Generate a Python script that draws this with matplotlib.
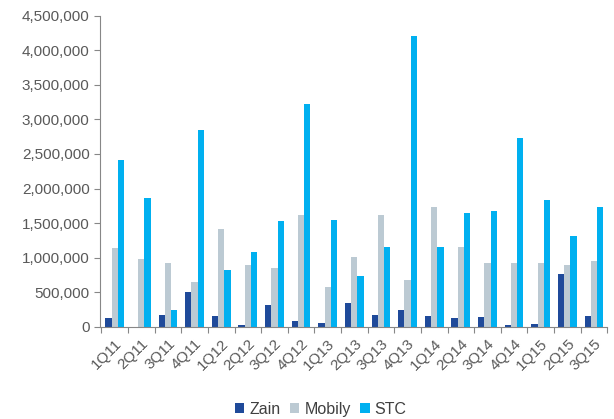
import numpy as np
import matplotlib.pyplot as plt
from matplotlib.ticker import FuncFormatter

quarters = ['1Q11', '2Q11', '3Q11', '4Q11', '1Q12', '2Q12', '3Q12', '4Q12', '1Q13', '2Q13',
            '3Q13', '4Q13', '1Q14', '2Q14', '3Q14', '4Q14', '1Q15', '2Q15', '3Q15']
zain = [125000, -10000, 170000, 500000, 160000, 25000, 310000, 90000, 60000, 350000,
        170000, 240000, 160000, 130000, 140000, 25000, 40000, 770000, 160000]
mobily = [1140000, 980000, 930000, 650000, 1420000, 900000, 850000, 1620000, 580000, 1010000,
          1620000, 670000, 1740000, 1160000, 920000, 920000, 920000, 900000, 950000]
stc = [2410000, 1870000, 240000, 2840000, 820000, 1080000, 1530000, 3220000, 1540000, 730000,
       1160000, 4210000, 1160000, 1640000, 1670000, 2730000, 1840000, 1310000, 1740000]

plt.rcParams['font.family'] = ['Liberation Sans', 'DejaVu Sans']
grey = '#595959'
fig = plt.figure(figsize=(6.14, 4.19), dpi=100)
ax = fig.add_axes([0.163, 0.22, 0.826, 0.7425])

x = np.arange(len(quarters))
w = 0.235
ax.bar(x - w, zain, w, color='#1F4A9A', label='Zain')
ax.bar(x, mobily, w, color='#BCCAD3', label='Mobily')
ax.bar(x + w, stc, w, color='#00B0F0', label='STC')

ax.set_xlim(-0.55, len(quarters) - 0.5)
ax.set_ylim(0, 4500000)
ax.set_yticks(np.arange(0, 4500001, 500000))
ax.yaxis.set_major_formatter(FuncFormatter(lambda v, p: f'{int(v):,}'))

ax.set_xticks(np.arange(-0.5, len(quarters), 1))
ax.set_xticklabels([])
ax.set_xticks(x, minor=True)
ax.set_xticklabels(quarters, minor=True, rotation=45, ha='right', rotation_mode='anchor')
ax.tick_params(axis='x', which='minor', length=0, pad=7, labelsize=11, labelcolor=grey)
ax.tick_params(axis='x', which='major', length=4, color='#878787')
ax.tick_params(axis='y', length=4, color='#878787', labelsize=11, labelcolor=grey)

for s in ['top', 'right']:
    ax.spines[s].set_visible(False)
for s in ['left', 'bottom']:
    ax.spines[s].set_color('#878787')

ax.legend(loc='lower center', bbox_to_anchor=(0.435, -0.335), ncol=3, frameon=False,
          handlelength=0.6, handleheight=0.6, handletextpad=0.3, columnspacing=0.6,
          fontsize=11.5, labelcolor='#404040')

plt.savefig('out.png', dpi=100)
